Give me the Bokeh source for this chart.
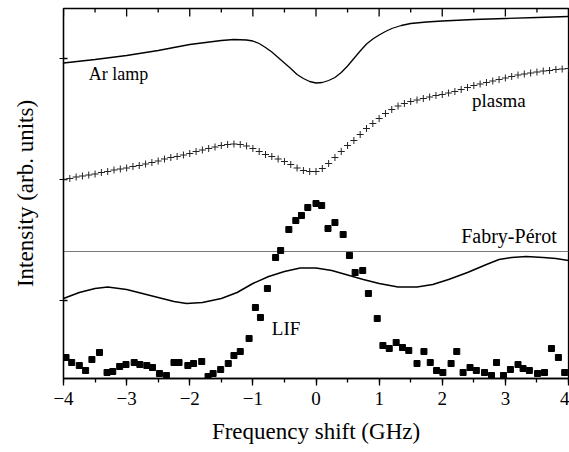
import math
from bokeh.plotting import figure
from bokeh.models import Range1d, FixedTicker, SingleIntervalTicker, Label, Span
from bokeh.embed import file_html
from bokeh.resources import INLINE

# ---------------- data (arbitrary intensity units) ----------------
ar_x = [-4.0, -3.5, -3.0, -2.5, -2.0, -1.5, -1.3, -1.1, -1.0, -0.9, -0.8, -0.7,
        -0.6, -0.5, -0.4, -0.3, -0.2, -0.1, 0.0, 0.1, 0.2, 0.3, 0.4, 0.5, 0.6,
        0.7, 0.8, 0.9, 1.0, 1.1, 1.2, 1.35, 1.5, 1.75, 2.0, 2.5, 3.0, 3.5, 4.0]
ar_y = [315.5, 319, 323, 328, 334, 338, 339, 338.5, 337.5, 335, 331, 326.5,
        321, 315.5, 310, 304, 300, 297, 295.5, 296, 298, 301, 306, 312.5, 320,
        327.5, 334.5, 339.5, 343.5, 347, 350, 353, 355, 356.5, 357.5, 359, 360, 361, 362]

plasma_x = [round(-4.0 + 0.1 * i, 1) for i in range(81)]
plasma_y = [199, 200, 201.5, 202.5, 203.5, 204.5, 206, 207, 208.5, 209.5,
            210.5, 212, 213, 214.5, 216, 217.5, 219.5, 221, 222, 223.5,
            225, 227, 228.5, 230, 231.5, 233, 234, 234.5, 234, 232.5,
            230, 227, 224, 222, 219.5, 217, 214, 210.5, 208, 207,
            207, 210, 215, 221, 227, 233, 238, 244, 250, 255,
            260, 265, 269, 272.5, 275, 277, 278.5, 280, 281.5, 283,
            284, 285.5, 287, 289, 291, 293, 294.5, 296, 297.5, 299,
            300.5, 302, 303.5, 304.5, 305.5, 306.5, 307.5, 308, 309, 309.5, 310]

fp_x = [-4.0, -3.75, -3.5, -3.3, -3.0, -2.75, -2.5, -2.25, -2.05, -1.8, -1.5,
        -1.25, -1.0, -0.75, -0.5, -0.25, 0.0, 0.25, 0.5, 0.75, 1.0, 1.3, 1.6,
        1.85, 2.1, 2.4, 2.7, 2.9, 3.1, 3.33, 3.6, 3.8, 4.0]
fp_y = [80, 86, 90, 91.5, 89, 85, 81, 77, 75, 76, 80,
        86, 95, 102, 107, 110.5, 110.5, 108, 103.5, 99, 95, 91.5, 91.5,
        94, 99, 106, 114, 119, 121, 122, 121, 120, 118]

lif_x = [-3.96, -3.87, -3.75, -3.65, -3.55, -3.43, -3.31, -3.22, -3.11, -3.01,
         -2.88, -2.79, -2.68, -2.59, -2.48, -2.37, -2.25, -2.17, -2.03, -1.94,
         -1.81, -1.71, -1.63, -1.51, -1.39, -1.30, -1.20, -1.06, -0.96, -0.88,
         -0.77, -0.64, -0.56, -0.43, -0.32, -0.23, -0.13, 0.00, 0.09, 0.19,
         0.30, 0.43, 0.53, 0.62, 0.74, 0.83, 0.97, 1.06, 1.16, 1.27,
         1.37, 1.47, 1.60, 1.71, 1.81, 1.91, 2.01, 2.14, 2.23, 2.33,
         2.44, 2.54, 2.67, 2.78, 2.86, 2.97, 3.08, 3.20, 3.28, 3.38,
         3.51, 3.62, 3.73, 3.84, 3.94]
lif_y = [21, 16, 13, 8, 19, 26, 6, 7, 12, 14,
         16, 14, 13, 11, 5, 3, 16, 16, 13, 15,
         17, 2, 5, 9, 15, 23, 27, 40, 71, 61,
         90, 121, 128, 149, 158, 163, 171, 175, 173, 150,
         156, 144, 123, 106, 108, 85, 60, 33, 30, 36,
         31, 28, 15, 27, 16, 8, 6, 15, 27, 6,
         11, 8, 6, 3, 16, 3, 9, 14, 10, 8,
         5, 6, 30, 21, 6]

fp_reference_level = 127
y_ticks = [78, 199, 320]
x_ticks = [-4, -3, -2, -1, 0, 1, 2, 3, 4]
x_minor_ticks = [-3.5, -2.5, -1.5, -0.5, 0.5, 1.5, 2.5, 3.5]

X_LO, X_HI = -4, 4
Y_LO, Y_HI = 0, 370
FRAME_W, FRAME_H = 505, 370          # frame size in px
FONT = "Liberation Serif"

p = figure(width=569, height=452, output_backend="svg", toolbar_location=None,
           x_range=Range1d(X_LO, X_HI), y_range=Range1d(Y_LO, Y_HI),
           min_border_left=63, min_border_right=1, min_border_top=8,
           min_border_bottom=74, background_fill_color="white",
           border_fill_color="white")
p.grid.visible = False
p.outline_line_color = "black"
p.outline_line_width = 1.3

# bottom axis
xa = p.xaxis[0]
xa.ticker = SingleIntervalTicker(interval=1, num_minor_ticks=2)
xa.axis_label = "Frequency shift (GHz)"
xa.axis_label_text_font = FONT
xa.axis_label_text_font_style = "normal"
xa.axis_label_text_font_size = "23px"
xa.axis_label_text_color = "black"
xa.axis_label_standoff = 11
xa.major_label_text_font = FONT
xa.major_label_text_font_size = "19px"
xa.major_label_text_color = "black"
xa.major_label_standoff = 6
xa.major_tick_in = 0
xa.major_tick_out = 7
xa.minor_tick_in = 0
xa.minor_tick_out = 4
xa.axis_line_width = 1.3
xa.major_tick_line_width = 1.3
xa.minor_tick_line_width = 1.3

# left axis
ya = p.yaxis[0]
ya.ticker = FixedTicker(ticks=y_ticks)
ya.major_label_overrides = {t: "" for t in y_ticks}
ya.axis_label = "Intensity (arb. units)"
ya.axis_label_text_font = FONT
ya.axis_label_text_font_style = "normal"
ya.axis_label_text_font_size = "23px"
ya.axis_label_text_color = "black"
ya.axis_label_standoff = 22
ya.major_tick_in = 0
ya.major_tick_out = 4
ya.minor_tick_line_color = None
ya.axis_line_width = 1.3

# inward tick marks (mirror ticks along the top, inner half of the left ticks)
px_y = (Y_HI - Y_LO) / FRAME_H
px_x = (X_HI - X_LO) / FRAME_W
p.scatter(x_ticks, [Y_HI - 4 * px_y] * len(x_ticks), marker="dash", angle=math.pi / 2,
          size=8, line_color="black", line_width=1.3)
p.scatter(x_minor_ticks, [Y_HI - 2 * px_y] * len(x_minor_ticks), marker="dash",
          angle=math.pi / 2, size=4, line_color="black", line_width=1.3)
p.scatter([X_LO + 2 * px_x] * len(y_ticks), y_ticks, marker="dash", size=4,
          line_color="black", line_width=1.3)

# horizontal reference line
p.add_layout(Span(location=fp_reference_level, dimension="width",
                  line_color="#7a7a7a", line_width=1, level="underlay"))

p.line(ar_x, ar_y, line_color="black", line_width=1.3)
p.line(fp_x, fp_y, line_color="black", line_width=1.5)
p.scatter(plasma_x, plasma_y, marker="cross", size=7, line_color="#222222", line_width=1)
p.scatter(lif_x, lif_y, marker="square", size=6, fill_color="black", line_color="black")

labels = [("Ar lamp", -3.6, 305, "18px"), ("plasma", 2.47, 278, "19px"),
          ("Fabry-Pérot", 2.3, 143, "20px"), ("LIF", -0.7, 50, "19px")]
for txt, x, y, fs in labels:
    p.add_layout(Label(x=x, y=y, text=txt, text_font=FONT, text_font_size=fs,
                       text_color="black", text_baseline="alphabetic"))

open("out.html", "w").write(file_html(p, INLINE))
